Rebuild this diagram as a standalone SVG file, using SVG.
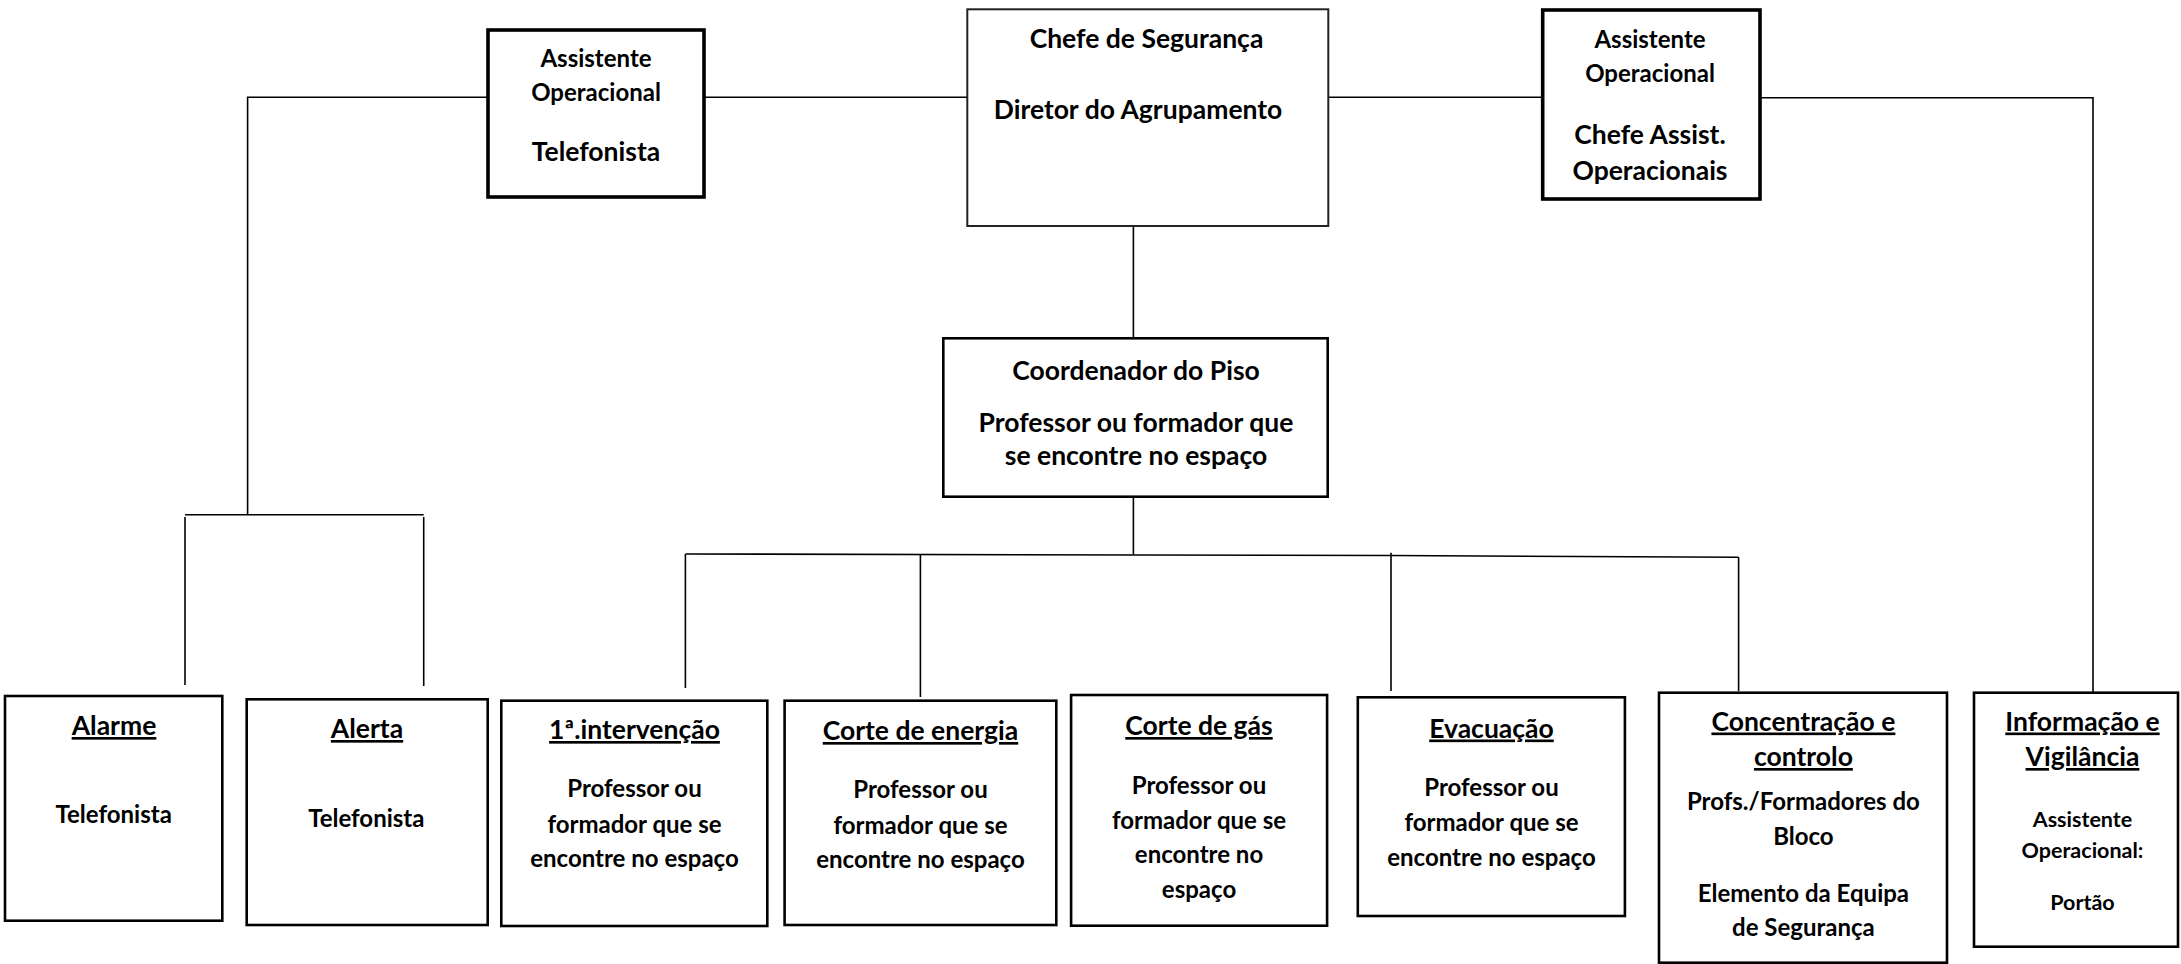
<svg xmlns="http://www.w3.org/2000/svg" width="2181" height="964" viewBox="0 0 2181 964">
<style>
  .bg { fill: #ffffff; }
  .box { fill: #ffffff; stroke: #000000; stroke-width: 2.6; }
  .boxthin { fill: #ffffff; stroke: #222222; stroke-width: 2; }
  .boxthick { fill: #ffffff; stroke: #000000; stroke-width: 3.6; }
  .conn { fill: none; stroke: #000000; stroke-width: 1.6; }
  text { font-family: "Lato", "Liberation Sans", sans-serif; font-weight: bold; fill: #000000; text-anchor: middle; }
  .t22 { font-size: 26.5px; }
  .t20 { font-size: 24px; }
  .t18 { font-size: 21.5px; }
  .u { text-decoration: underline; }
</style>
<rect class="bg" x="0" y="0" width="2181" height="964"/>

<g id="connectors">
  <polyline class="conn" points="488,97.3 247.6,97.3 247.6,514.7"/>
  <line class="conn" x1="704" y1="97.3" x2="967" y2="97.3"/>
  <line class="conn" x1="1328" y1="97.3" x2="1543" y2="97.3"/>
  <polyline class="conn" points="1760,97.7 2093,97.7 2093,693"/>
  <line class="conn" x1="1133.4" y1="226" x2="1133.4" y2="338"/>
  <line class="conn" x1="1133.4" y1="497" x2="1133.4" y2="554.5"/>
  <polyline class="conn" points="685.4,554 1391,555.5 1738.6,557.3"/>
  <line class="conn" x1="685.4" y1="554" x2="685.4" y2="688"/>
  <line class="conn" x1="920.4" y1="554.5" x2="920.4" y2="697"/>
  <line class="conn" x1="1391" y1="552.7" x2="1391" y2="691"/>
  <line class="conn" x1="1738.6" y1="557.3" x2="1738.6" y2="691"/>
  <line class="conn" x1="185" y1="514.7" x2="423.7" y2="514.7"/>
  <line class="conn" x1="185" y1="517" x2="185" y2="685"/>
  <line class="conn" x1="423.7" y1="517" x2="423.7" y2="686"/>
</g>

<g id="node-telefonista">
  <rect class="boxthick" x="488" y="30" width="216" height="167"/>
  <text class="t20" x="596" y="67">Assistente</text>
  <text class="t20" x="596" y="101">Operacional</text>
  <text class="t22" x="596" y="161">Telefonista</text>
</g>

<g id="node-chefe-seguranca">
  <rect class="boxthin" x="967.3" y="9.3" width="361" height="216.7"/>
  <text class="t22" x="1146.5" y="47.5">Chefe de Segurança</text>
  <text class="t22" x="1138" y="119">Diretor do Agrupamento</text>
</g>

<g id="node-chefe-assist">
  <rect class="boxthick" x="1542.7" y="10" width="217.3" height="189"/>
  <text class="t20" x="1650" y="48">Assistente</text>
  <text class="t20" x="1650" y="82">Operacional</text>
  <text class="t22" x="1650" y="144">Chefe Assist.</text>
  <text class="t22" x="1650" y="180">Operacionais</text>
</g>

<g id="node-coordenador">
  <rect class="box" x="943.3" y="338.3" width="384.4" height="158.4"/>
  <text class="t22" x="1136" y="380">Coordenador do Piso</text>
  <text class="t22" x="1136" y="431.7">Professor ou formador que</text>
  <text class="t22" x="1136" y="465">se encontre no espaço</text>
</g>

<g id="node-alarme">
  <rect class="box" x="5" y="696" width="217.3" height="224.7"/>
  <text class="t22 u" x="114" y="735">Alarme</text>
  <text class="t20" x="113.7" y="823">Telefonista</text>
</g>

<g id="node-alerta">
  <rect class="box" x="246.7" y="699.3" width="241" height="225.7"/>
  <text class="t22 u" x="367" y="738">Alerta</text>
  <text class="t20" x="366.3" y="827">Telefonista</text>
</g>

<g id="node-intervencao">
  <rect class="box" x="501.3" y="700.7" width="266" height="225.3"/>
  <text class="t22 u" x="634.5" y="739">1ª.intervenção</text>
  <text class="t20" x="634.5" y="797">Professor ou</text>
  <text class="t20" x="634.5" y="833">formador que se</text>
  <text class="t20" x="634.5" y="867">encontre no espaço</text>
</g>

<g id="node-energia">
  <rect class="box" x="784.6" y="700.7" width="271.7" height="224.3"/>
  <text class="t22 u" x="920.5" y="740">Corte de energia</text>
  <text class="t20" x="920.5" y="798">Professor ou</text>
  <text class="t20" x="920.5" y="833.5">formador que se</text>
  <text class="t20" x="920.5" y="868">encontre no espaço</text>
</g>

<g id="node-gas">
  <rect class="box" x="1071.1" y="695" width="256" height="230.7"/>
  <text class="t22 u" x="1199" y="735">Corte de gás</text>
  <text class="t20" x="1199" y="794">Professor ou</text>
  <text class="t20" x="1199" y="828.5">formador que se</text>
  <text class="t20" x="1199" y="863">encontre no</text>
  <text class="t20" x="1199" y="897.5">espaço</text>
</g>

<g id="node-evacuacao">
  <rect class="box" x="1357.8" y="697.3" width="267.1" height="218.7"/>
  <text class="t22 u" x="1491.5" y="737.5">Evacuação</text>
  <text class="t20" x="1491.5" y="796">Professor ou</text>
  <text class="t20" x="1491.5" y="831">formador que se</text>
  <text class="t20" x="1491.5" y="866">encontre no espaço</text>
</g>

<g id="node-concentracao">
  <rect class="box" x="1659" y="692.7" width="288" height="270"/>
  <text class="t22 u" x="1803.4" y="730.5">Concentração e</text>
  <text class="t22 u" x="1803.4" y="766">controlo</text>
  <text class="t20" x="1803.4" y="810">Profs./Formadores do</text>
  <text class="t20" x="1803.4" y="845">Bloco</text>
  <text class="t20" x="1803.4" y="901.5">Elemento da Equipa</text>
  <text class="t20" x="1803.4" y="935.5">de Segurança</text>
</g>

<g id="node-informacao">
  <rect class="box" x="1974" y="692.7" width="204" height="254"/>
  <text class="t22 u" x="2082.5" y="730.5">Informação e</text>
  <text class="t22 u" x="2082.5" y="766">Vigilância</text>
  <text class="t18" x="2082.5" y="826.7">Assistente</text>
  <text class="t18" x="2082.5" y="857.5">Operacional:</text>
  <text class="t18" x="2082.5" y="910">Portão</text>
</g>
</svg>
